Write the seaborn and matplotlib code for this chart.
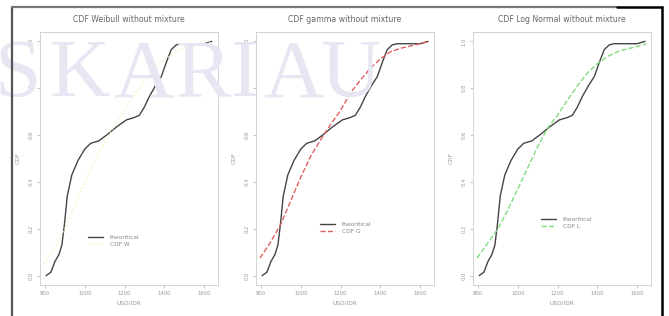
import pandas as pd
import seaborn as sns
import matplotlib.pyplot as plt
from matplotlib.lines import Line2D

# empirical CDF (USD/IDR)
emp_x = [806, 830, 850, 870, 885, 898, 912, 935, 965, 1000, 1030, 1070, 1110, 1160,
         1210, 1250, 1275, 1300, 1325, 1355, 1385, 1410, 1435, 1460, 1485, 1540, 1600, 1640]
emp_y = [0.0, 0.015, 0.06, 0.09, 0.13, 0.22, 0.34, 0.43, 0.49, 0.54, 0.565, 0.575, 0.60, 0.635,
         0.665, 0.675, 0.685, 0.72, 0.765, 0.81, 0.85, 0.91, 0.965, 0.985, 0.99, 0.99, 0.99, 1.0]

# fitted CDFs
fit_x = [795, 850, 900, 950, 1000, 1050, 1100, 1150, 1200, 1250, 1300, 1350, 1400, 1450, 1500, 1550, 1600, 1645]
weib_y = [0.05, 0.12, 0.20, 0.30, 0.40, 0.49, 0.57, 0.64, 0.71, 0.77, 0.83, 0.88, 0.92, 0.95, 0.975, 0.985, 0.99, 1.0]
gamma_y = [0.075, 0.145, 0.22, 0.32, 0.42, 0.51, 0.58, 0.645, 0.705, 0.78, 0.835, 0.885, 0.925, 0.955, 0.97, 0.98, 0.99, 1.0]
lnorm_y = [0.075, 0.14, 0.20, 0.28, 0.37, 0.46, 0.55, 0.63, 0.685, 0.75, 0.81, 0.865, 0.905, 0.935, 0.955, 0.968, 0.978, 0.99]

titles = ["CDF Weibull without mixture", "CDF gamma without mixture", "CDF Log Normal without mixture"]
fit_labels = ["CDF W", "CDF G", "CDF L"]
fit_colors = ["#f0f0bb", "#e06060", "#7fdc7f"]
fit_styles = [":", "--", "--"]
fit_series = [weib_y, gamma_y, lnorm_y]

xticks = [800, 1000, 1200, 1400, 1600]
yticks = [0.0, 0.2, 0.4, 0.6, 0.8, 1.0]

emp = pd.DataFrame({"x": emp_x, "y": emp_y})

sns.set_theme(style="white")
plt.rcParams['font.family'] = ['DejaVu Sans']

fig = plt.figure(figsize=(6.69, 3.16), dpi=100)

# watermark
for ch, cx in zip("SKARIAU", [18, 80, 143, 203, 245, 293, 350]):
    fig.text(cx / 669, 1 - 96 / 316, ch, ha='center', va='baseline', fontsize=60,
             family='Liberation Serif', color='#e7e7f3', zorder=0)

lefts = [40, 256, 473]
leg_pos = [(0.24, 0.175), (0.33, 0.225), (0.35, 0.245)]
for i in range(3):
    ax = fig.add_axes([lefts[i] / 669, 1 - 285 / 316, 178 / 669, 253 / 316])
    ax.set_facecolor('none')
    sns.lineplot(data=emp, x="x", y="y", ax=ax, color="#444444", linewidth=1.0, label="theoritical")
    fit = pd.DataFrame({"x": fit_x, "y": fit_series[i]})
    sns.lineplot(data=fit, x="x", y="y", ax=ax, color=fit_colors[i], linewidth=1.0,
                 linestyle=fit_styles[i], label=fit_labels[i])
    ax.set_xlim(775, 1670)
    ax.set_ylim(-0.04, 1.04)
    ax.set_xticks(xticks)
    ax.set_yticks(yticks)
    ax.set_yticklabels([f"{v:.1f}" for v in yticks], rotation=90, va='center')
    ax.tick_params(axis='both', length=2.5, width=0.5, colors='#aaaaaa', labelsize=3.8,
                   labelcolor='#999999', pad=2, bottom=True, left=True)
    for s in ax.spines.values():
        s.set_color('#cccccc')
        s.set_linewidth(0.6)
    ax.set_title(titles[i], fontsize=5.6, color='#666666', pad=7)
    ax.set_xlabel("USD/IDR", fontsize=4.2, color='#999999', labelpad=3)
    ax.set_ylabel("CDF", fontsize=4.2, color='#999999', labelpad=6)
    leg = ax.legend(loc='center left', bbox_to_anchor=leg_pos[i], frameon=False, fontsize=4.2,
                    handlelength=2.6, labelspacing=0.3, handletextpad=1.2)
    for t in leg.get_texts():
        t.set_color('#888888')

# outer border
fig.add_artist(Line2D([12 / 669, 12 / 669], [0, 1 - 7 / 316], transform=fig.transFigure, color='#555555', lw=1.6))
fig.add_artist(Line2D([12 / 669, 617 / 669], [1 - 7 / 316] * 2, transform=fig.transFigure, color='#777777', lw=1.6))
fig.add_artist(Line2D([617 / 669, 662 / 669], [1 - 7 / 316] * 2, transform=fig.transFigure, color='black', lw=1.8))
fig.add_artist(Line2D([662 / 669, 662 / 669], [0, 1 - 7 / 316], transform=fig.transFigure, color='black', lw=1.8))

plt.savefig("out.png", dpi=100)
